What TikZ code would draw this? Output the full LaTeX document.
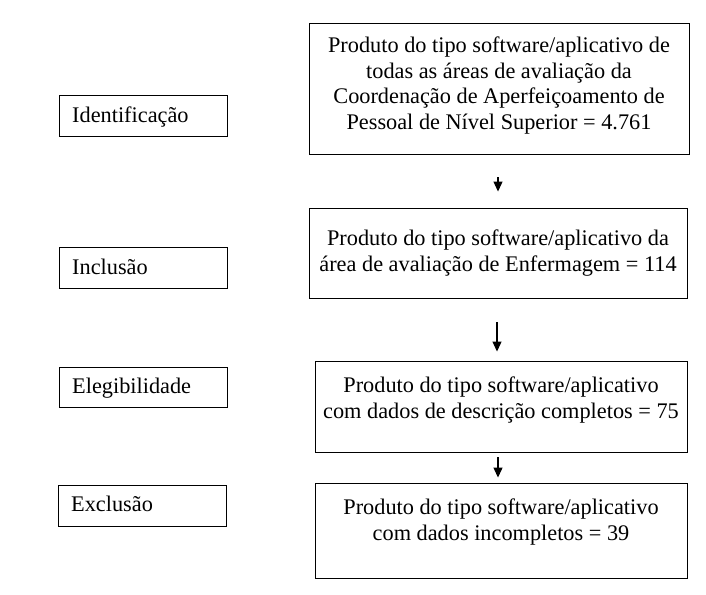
\documentclass[tikz,border=0pt]{standalone}
\usepackage{fontspec}
\setmainfont{Liberation Serif}
\usetikzlibrary{arrows.meta}
\begin{document}
\begin{tikzpicture}[x=1pt,y=-1pt,
  frame/.style={draw=black,line width=0.9pt,inner sep=0pt},
  txt/.style={font=\fontsize{22.3}{25.8}\selectfont,inner sep=0pt,align=center,anchor=base},
  ltxt/.style={font=\fontsize{22.3}{25.8}\selectfont,inner sep=0pt,anchor=base west},
  arr/.style={line width=1.1pt,-{Triangle[width=9pt,length=10pt]}}]
\useasboundingbox (0,0) rectangle (706,594);
% right column
\node[frame,minimum width=380pt,minimum height=131pt] (b1) at (499,88.5) {};
\node[frame,minimum width=378pt,minimum height=90pt] (b2) at (498,253) {};
\node[frame,minimum width=372pt,minimum height=91pt] (b3) at (501,406.5) {};
\node[frame,minimum width=372pt,minimum height=95pt] (b4) at (501,530.5) {};
\node[txt] (t1) at (499,129.7) {Produto do tipo software/aplicativo de\\todas as áreas de avaliação da\\Coordenação de Aperfeiçoamento de\\Pessoal de Nível Superior = 4.761};
\node[txt] (t2) at (498,271.7) {Produto do tipo software/aplicativo da\\área de avaliação de Enfermagem = 114};
\node[txt] (t3) at (501,418.3) {Produto do tipo software/aplicativo\\com dados de descrição completos = 75};
\node[txt] (t4) at (501,540) {Produto do tipo software/aplicativo\\com dados incompletos = 39};
% left column
\node[frame,minimum width=168pt,minimum height=41pt] (l1) at (143,115.5) {};
\node[frame,minimum width=168pt,minimum height=41pt] (l2) at (143,267.5) {};
\node[frame,minimum width=168pt,minimum height=40pt] (l3) at (143,387) {};
\node[frame,minimum width=168pt,minimum height=41pt] (l4) at (142,505.5) {};
\node[ltxt] (s1) at (72,122.7) {Identificação};
\node[ltxt] (s2) at (72,274) {Inclusão};
\node[ltxt] (s3) at (72,393.3) {Elegibilidade};
\node[ltxt] (s4) at (71,511.7) {Exclusão};
% arrows
\draw[arr,shorten <=23pt,shorten >=16pt] ([xshift=-1pt]b1.south) -- ([xshift=-1pt]b1.south |- b2.north);
\draw[arr,shorten <=24pt,shorten >=9pt] ([xshift=-1pt]b2.south) -- ([xshift=-1pt]b2.south |- b3.north);
\draw[arr,shorten <=5pt,shorten >=5pt] ([xshift=-3pt]b3.south) -- ([xshift=-3pt]b3.south |- b4.north);
\end{tikzpicture}
\end{document}
